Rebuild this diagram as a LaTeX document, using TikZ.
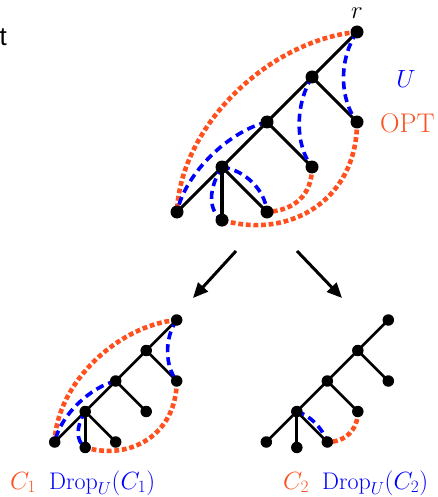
\documentclass[tikz,border=0pt]{standalone}
\usepackage{fontspec}
\newfontfamily\arialfont{Liberation Sans}
\usetikzlibrary{backgrounds,arrows.meta}
\definecolor{optcol}{RGB}{255,80,30}
\definecolor{ucol}{RGB}{0,0,255}
\tikzset{
  dot/.style={circle,fill=black,inner sep=0pt,minimum size=#1},
  edge/.style={line width=#1,black},
  optline/.style={optcol,line width=4.6pt,dash pattern=on 4.8pt off 2.8pt},
  uline/.style={ucol,line width=3.6pt,dash pattern=on 8pt off 5pt},
  arr/.style={line width=3pt,-{Triangle[length=15pt,width=13pt]}},
  lab/.style={inner sep=0pt,anchor=base west},
}
\newcommand{\mytree}[2]{%
  \node[dot=#2] (#1r) at (0,0) {};
  \node[dot=#2] (#1a) at (-1,1) {};
  \node[dot=#2] (#1b) at (0,2) {};
  \node[dot=#2] (#1c) at (-2,2) {};
  \node[dot=#2] (#1d) at (-1,3) {};
  \node[dot=#2] (#1e) at (-3,3) {};
  \node[dot=#2] (#1f) at (-4,4) {};
  \node[dot=#2] (#1g) at (-3,4.18) {};
  \node[dot=#2] (#1h) at (-2,4) {};
}
\newcommand{\treeedges}[2]{%
  \draw[edge=#2] (#1r.center) -- (#1a.center) -- (#1c.center) -- (#1e.center) -- (#1f.center);
  \draw[edge=#2] (#1a.center) -- (#1b.center);
  \draw[edge=#2] (#1c.center) -- (#1d.center);
  \draw[edge=#2] (#1e.center) -- (#1g.center);
  \draw[edge=#2] (#1e.center) -- (#1h.center);
}
\begin{document}
\begin{tikzpicture}[x=1pt,y=-1pt]
\useasboundingbox (0,0) rectangle (438,497);

\node[font=\arialfont\fontsize{26}{30}\selectfont,anchor=base east,inner sep=0pt] (tchar) at (7,46) {t};

% top tree
\begin{scope}[shift={(357pt,-32pt)},x=45pt,y=-45pt]
  \mytree{T-}{13pt}
  \begin{pgfonlayer}{background}
    \treeedges{T-}{3.1pt}
    \draw[optline] (T-r.center) .. controls (-1.93,0.18) and (-3.93,2.07) .. (T-f.center);
    \draw[optline] (T-b.center) .. controls (0,3.73) and (-1.49,4.62) .. (T-g.center);
    \draw[optline] (T-d.center) .. controls (-1,3.62) and (-1.38,3.96) .. (T-h.center);
    \draw[uline] (T-r.center) .. controls (-0.42,0.62) and (-0.38,1.51) .. (T-b.center);
    \draw[uline] (T-a.center) .. controls (-1.38,1.62) and (-1.38,2.51) .. (T-d.center);
    \draw[uline] (T-c.center) .. controls (-2.82,2.2) and (-3.8,3.1) .. (T-f.center);
    \draw[uline] (T-e.center) .. controls (-3.31,3.49) and (-3.31,3.96) .. (T-g.center);
    \draw[uline] (T-e.center) .. controls (-2.49,3.07) and (-2.04,3.51) .. (T-h.center);
  \end{pgfonlayer}
\end{scope}

\node[font=\fontsize{26}{30}\selectfont,inner sep=0pt,anchor=base] (rlab) at (357,19) {$r$};
\node[font=\fontsize{27}{30}\selectfont,inner sep=0pt,anchor=base,text=ucol] (ulab) at (406,88) {$U$};
\node[font=\fontsize{27}{30}\selectfont,lab,text=optcol] (optlab) at (380,133) {OPT};

% arrows
\coordinate (a1s) at (236,251);
\coordinate (a1e) at (193,298);
\coordinate (a2s) at (297,251);
\coordinate (a2e) at (342,298);
\draw[arr] (a1s) -- (a1e);
\draw[arr] (a2s) -- (a2e);

% bottom left tree
\begin{scope}[shift={(176.7pt,-320pt)},x=30.5pt,y=-30.5pt]
  \mytree{L-}{11.5pt}
  \begin{pgfonlayer}{background}
    \treeedges{L-}{2.7pt}
    \draw[optline] (L-r.center) .. controls (-1.93,0.18) and (-3.93,2.07) .. (L-f.center);
    \draw[optline] (L-b.center) .. controls (0,3.73) and (-1.49,4.62) .. (L-g.center);
    \draw[uline] (L-r.center) .. controls (-0.42,0.62) and (-0.38,1.51) .. (L-b.center);
    \draw[uline] (L-c.center) .. controls (-2.82,2.2) and (-3.8,3.1) .. (L-f.center);
    \draw[uline] (L-e.center) .. controls (-3.31,3.49) and (-3.31,3.96) .. (L-g.center);
  \end{pgfonlayer}
\end{scope}

% bottom right tree
\begin{scope}[shift={(388.3pt,-320pt)},x=30.5pt,y=-30.5pt]
  \mytree{R-}{11.5pt}
  \begin{pgfonlayer}{background}
    \treeedges{R-}{2.7pt}
    \draw[optline] (R-d.center) .. controls (-1,3.6) and (-1.4,4.0) .. (R-h.center);
    \draw[uline] (R-e.center) .. controls (-2.6,3.1) and (-2.15,3.55) .. (R-h.center);
  \end{pgfonlayer}
\end{scope}

% bottom labels
\node[font=\fontsize{24}{28}\selectfont,lab,text=optcol] (c1) at (10,489) {$C_1$};
\node[font=\fontsize{24}{28}\selectfont,lab,text=ucol] (d1) at (49,489) {$\mathrm{Drop}_U(C_1)$};
\node[font=\fontsize{24}{28}\selectfont,lab,text=optcol] (c2) at (283,489) {$C_2$};
\node[font=\fontsize{24}{28}\selectfont,lab,text=ucol] (d2) at (322,489) {$\mathrm{Drop}_U(C_2)$};
\end{tikzpicture}
\end{document}
